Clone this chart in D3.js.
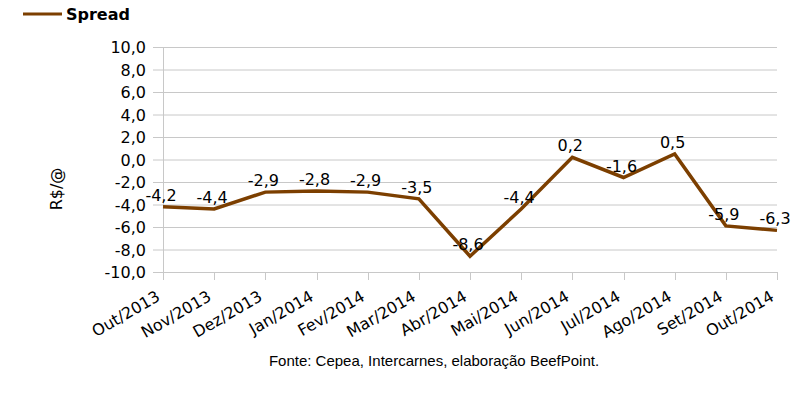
<!DOCTYPE html>
<head>
  <meta charset="UTF-8">
  <title>spread</title>
  <style>
  body, html{ margin:0; padding:0; background:#fff; }
  svg{ display:block; }
  </style>
</head>
<body>
  <script src="https://cdn.jsdelivr.net/npm/d3@7"></script>
  <script type="text/javascript">
  var width = 812, height = 394;

  // dados
  var months = ['Out/2013','Nov/2013','Dez/2013','Jan/2014','Fev/2014','Mar/2014','Abr/2014',
    'Mai/2014','Jun/2014','Jul/2014','Ago/2014','Set/2014','Out/2014'];
  var spread = [-4.2, -4.4, -2.9, -2.8, -2.9, -3.5, -8.6, -4.4, 0.2, -1.6, 0.5, -5.9, -6.3];
  var yTicks = [-10, -8, -6, -4, -2, 0, 2, 4, 6, 8, 10];

  var lineColor = '#7c3f00';
  var fmt = function(v){ return d3.format('.1f')(v).replace('.', ',').replace('−', '-'); };

  var svg = d3.select('body').append('svg')
    .attr('width', width).attr('height', height);

  var x = d3.scalePoint().domain(months).range([163, 777]);
  var y = d3.scaleLinear().domain([-10, 10]).range([272, 47]);

  // grade
  svg.append('g').selectAll('line').data(yTicks).enter().append('line')
    .attr('x1', 153).attr('x2', 777)
    .attr('y1', function(d){ return y(d) + 0.5; })
    .attr('y2', function(d){ return y(d) + 0.5; })
    .attr('stroke', '#c8c8c8').attr('stroke-width', 1);

  // eixo y
  svg.append('line').attr('x1', 163.5).attr('x2', 163.5).attr('y1', 47).attr('y2', 280)
    .attr('stroke', '#c8c8c8');
  svg.append('g').selectAll('text').data(yTicks).enter().append('text')
    .attr('x', 146).attr('y', function(d){ return y(d) + 6; })
    .attr('text-anchor', 'end')
    .style('font', '16px "DejaVu Sans"').attr('fill', '#000')
    .text(fmt);

  // eixo x
  svg.append('g').selectAll('line').data(months).enter().append('line')
    .attr('x1', function(d){ return Math.round(x(d)) + 0.5; })
    .attr('x2', function(d){ return Math.round(x(d)) + 0.5; })
    .attr('y1', 272).attr('y2', 280)
    .attr('stroke', '#c8c8c8');
  svg.append('g').selectAll('text').data(months).enter().append('text')
    .attr('transform', function(d){ return 'translate(' + (x(d) - 7.5) + ',290) rotate(-30)'; })
    .attr('text-anchor', 'end')
    .attr('dy', '0.7em')
    .style('font', '16px "DejaVu Sans"')
    .text(function(d){ return d; });

  // título eixo y
  svg.append('text')
    .attr('transform', 'translate(62,189) rotate(-90)')
    .attr('text-anchor', 'middle')
    .style('font', '16px "DejaVu Sans"')
    .text('R$/@');

  // linha
  var line = d3.line()
    .x(function(d, i){ return x(months[i]); })
    .y(function(d){ return y(d); });
  svg.append('path').datum(spread)
    .attr('d', line)
    .attr('fill', 'none')
    .attr('stroke', lineColor)
    .attr('stroke-width', 3.5)
    .attr('stroke-linejoin', 'miter');

  // rótulos
  svg.append('g').selectAll('text').data(spread).enter().append('text')
    .attr('x', function(d, i){ return x(months[i]) - 2; })
    .attr('y', function(d){ return y(d) - 6; })
    .attr('text-anchor', 'middle')
    .style('font', '16px "DejaVu Sans"')
    .text(fmt);

  // legenda
  svg.append('line').attr('x1', 23).attr('x2', 62).attr('y1', 14).attr('y2', 14)
    .attr('stroke', lineColor).attr('stroke-width', 3);
  svg.append('text').attr('x', 66).attr('y', 20)
    .style('font', 'bold 16px "DejaVu Sans"')
    .text('Spread');

  // fonte
  svg.append('text').attr('x', 434).attr('y', 366)
    .attr('text-anchor', 'middle')
    .style('font', '15px "Liberation Sans"')
    .text('Fonte: Cepea, Intercarnes, elaboração BeefPoint.');
  </script>
</body>
</html>
